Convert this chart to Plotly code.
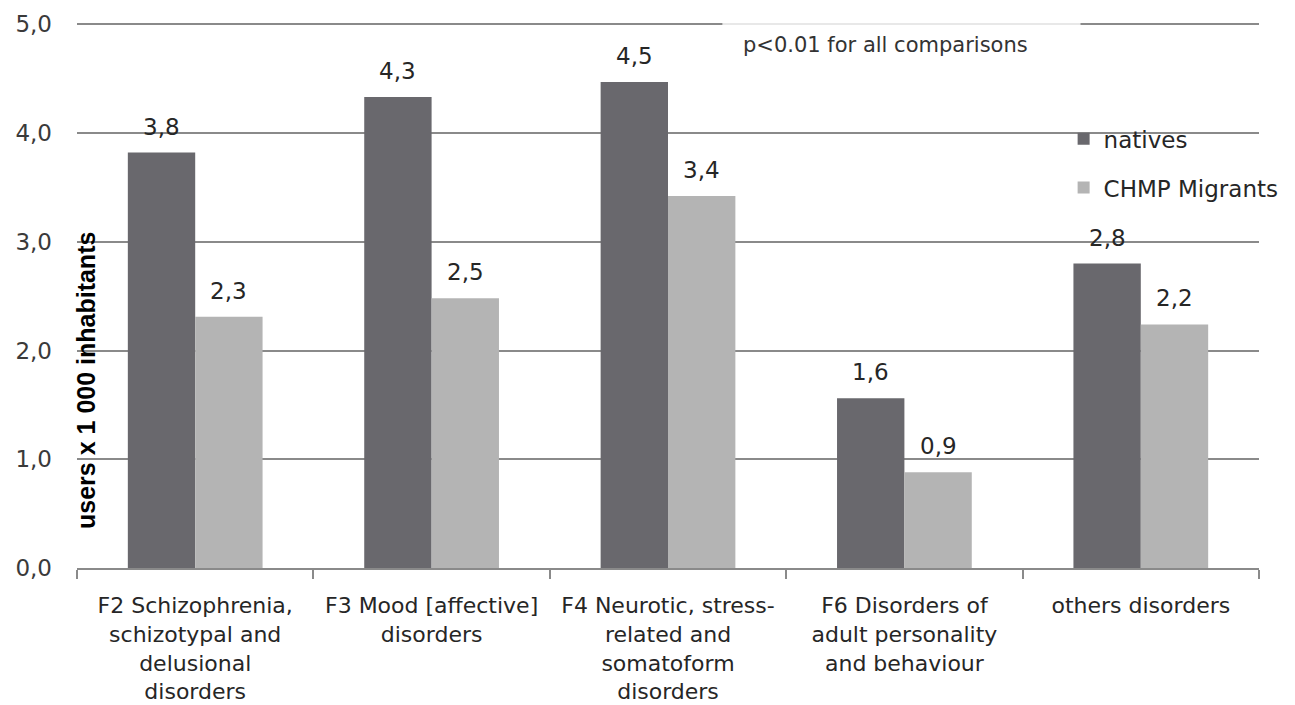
import plotly.graph_objects as go

# Mental-health service users per 1 000 inhabitants, by ICD-10 diagnostic group
categories = [
    "F2 Schizophrenia,<br>schizotypal and<br>delusional<br>disorders",
    "F3 Mood [affective]<br>disorders",
    "F4 Neurotic, stress-<br>related and<br>somatoform<br>disorders",
    "F6 Disorders of<br>adult personality<br>and behaviour",
    "others disorders",
]
natives = [3.82, 4.33, 4.47, 1.56, 2.80]
migrants = [2.31, 2.48, 3.42, 0.88, 2.24]
series_names = ["natives", "CHMP Migrants"]
y_ticks = [0, 1, 2, 3, 4, 5]

FONT = "DejaVu Sans"
TEXT = "#262626"
GRID = "#8a8a8a"
DARK = "#69686d"
LIGHT = "#b4b4b4"
BARGAP = 0.43

fig = go.Figure()
fig.add_trace(go.Bar(x=categories, y=natives, name=series_names[0],
                     marker=dict(color=DARK, line=dict(width=0)),
                     legendgroup="a"))
fig.add_trace(go.Bar(x=categories, y=migrants, name=series_names[1],
                     marker=dict(color=LIGHT, line=dict(width=0)),
                     legendgroup="b"))

# value labels above each bar, offset to the centre of its bar in the group
half = (1 - BARGAP) / 4
annotations = []
for i in range(len(categories)):
    for vals, off in ((natives, -half), (migrants, half)):
        annotations.append(dict(
            x=i + off, y=vals[i], xref="x", yref="y",
            text=f"{vals[i]:.1f}".replace(".", ","),
            showarrow=False, yanchor="bottom", yshift=11,
            font=dict(family=FONT, size=23, color=TEXT),
        ))

# axis title drawn inside the plot area, over the gridlines
annotations.append(dict(
    x=0.0076, y=0.3437, xref="paper", yref="paper",
    text="users x 1 000 inhabitants", textangle=-90, showarrow=False,
    xanchor="center", yanchor="middle",
    font=dict(family="Liberation Sans", size=25, color="#000000", weight="bold"),
))

# significance note
annotations.append(dict(
    x=0.6843, y=0.956, xref="paper", yref="paper",
    text="p<0.01 for all comparisons", showarrow=False,
    xanchor="center", yanchor="middle",
    font=dict(family=FONT, size=21, color="#333333"),
))

fig.update_layout(
    width=1295, height=705,
    margin=dict(l=77, r=35, t=21, b=137, pad=0),
    paper_bgcolor="white", plot_bgcolor="white",
    barmode="group", bargap=BARGAP, bargroupgap=0,
    separators=", ",
    font=dict(family=FONT, size=23, color=TEXT),
    showlegend=True,
    legend=dict(x=0.834, y=0.824, xanchor="left", yanchor="top",
                bgcolor="rgba(0,0,0,0)", tracegroupgap=16,
                font=dict(family=FONT, size=23, color=TEXT),
                itemwidth=30),
    annotations=annotations,
    shapes=[dict(type="rect", xref="paper", yref="paper",
                 x0=0.546, x1=0.849, y0=0.925, y1=1.002,
                 fillcolor="rgba(255,255,255,0.8)", line=dict(width=0),
                 layer="above")],
)

fig.update_xaxes(
    type="category", range=[-0.5, len(categories) - 0.5],
    showline=True, linecolor=GRID, linewidth=2,
    ticks="outside", tickson="boundaries", ticklen=9,
    tickcolor=GRID, tickwidth=2, showgrid=False,
    ticklabelstandoff=17, automargin=False,
    tickfont=dict(family=FONT, size=22, color=TEXT),
)
fig.update_yaxes(
    range=[0, 5.03], tickvals=y_ticks, tickformat=".1f",
    showgrid=True, gridcolor=GRID, gridwidth=2,
    zeroline=False, showline=False, ticks="",
    ticklabelstandoff=24, automargin=False,
    tickfont=dict(family=FONT, size=23, color="#3a3a3a"),
)

fig.write_html("out.html")
